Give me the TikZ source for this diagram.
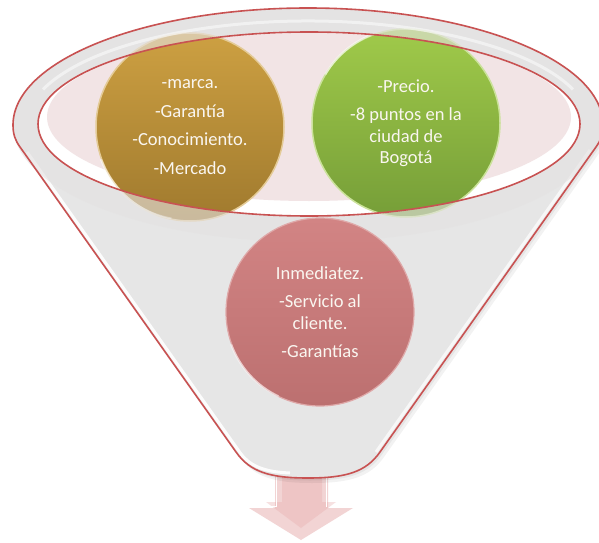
\documentclass[tikz,border=0pt]{standalone}
\usepackage{fontspec}
\setmainfont{Carlito}
\begin{document}
\begin{tikzpicture}[x=1pt,y=1pt]
\definecolor{redline}{RGB}{200,82,82}
\definecolor{bodygray}{RGB}{230,230,230}
\definecolor{rimgray}{RGB}{228,226,226}
\definecolor{innerpink}{RGB}{242,228,229}
\definecolor{goldtop}{RGB}{205,160,66}
\definecolor{goldbot}{RGB}{160,122,46}
\definecolor{greentop}{RGB}{160,202,74}
\definecolor{greenbot}{RGB}{118,158,56}
\definecolor{pinktop}{RGB}{210,132,132}
\definecolor{pinkbot}{RGB}{188,112,112}
\definecolor{arrowpink}{RGB}{242,212,212}
\definecolor{txt}{RGB}{250,246,240}
\tikzset{
  ball/.style={circle, minimum size=188pt, inner sep=0pt, align=center, text=txt,
    font=\fontsize{18.5}{21.5}\selectfont},
  redout/.style={draw=redline, line width=1.6pt},
}
\def\funnel{(13,417) arc[start angle=180,end angle=0,x radius=295,y radius=117]
  .. controls (603,408) and (601,402) .. (596,395) -- (380,90)
  .. controls (366,70) and (346,64) .. (308,64)
  .. controls (270,64) and (250,70) .. (236,90) -- (20,395)
  .. controls (15,402) and (13,408) .. (13,417) -- cycle}
\useasboundingbox (0,0) rectangle (599,542);
\clip (0,0) rectangle (599,542);
\fill[white] (0,0) rectangle (599,542);
% arrow
\fill[arrowpink] (275,72) -- (328,72) -- (328,34) -- (353,34) -- (301,2) -- (249,34) -- (275,34) -- cycle;
\fill[arrowpink!85!red!95!black, opacity=.35] (282,72) -- (322,72) -- (322,40) -- (336,40) -- (301,14) -- (266,40) -- (282,40) -- cycle;
\draw[white, line width=1.5pt] (276.5,72) -- (276.5,35.5) -- (252,35.5);
\draw[white, line width=1.5pt] (326.5,72) -- (326.5,35.5);
% shadow
\fill[black, opacity=.05] [shift={(4,-5)}] \funnel;
\fill[black, opacity=.05] [shift={(2,-2.5)}] \funnel;
% body
\fill[bodygray] \funnel;
\draw[white, line width=3pt, opacity=.9] (27,390) -- (241,88) .. controls (252,74) and (268,70) .. (290,69);
\draw[white, line width=3pt, opacity=.7] (590,392) -- (376,90);
% inner ellipse
\fill[white] (309,418) ellipse [x radius=271, y radius=92];
\fill[innerpink] (309,425) ellipse [x radius=262, y radius=84];
% circles
\node[ball, top color=goldtop, bottom color=goldbot, draw=goldtop!55!white, line width=1.5pt] (gold) at (190,415)
  {-marca.\\[7pt] -Garantía\\[7pt] -Conocimiento.\\[7pt] -Mercado};
\node[ball, top color=greentop, bottom color=greenbot, draw=greentop!55!white, line width=1.5pt] (green) at (406,419)
  {-Precio.\\[7pt] -8 puntos en la\\ ciudad de\\ Bogotá};
\draw[white, opacity=.5, line width=2pt] (gold.200) arc[start angle=200, end angle=260, radius=92];
\draw[white, opacity=.5, line width=2pt] (green.110) arc[start angle=110, end angle=150, radius=92];
% rim band
\fill[rimgray, opacity=.62, even odd rule] (308,417) ellipse [x radius=295, y radius=117]
  (309,418) ellipse [x radius=271, y radius=92];
\draw[white, opacity=.5, line width=3pt] (308,417) ++(160:282 and 104) arc[start angle=160, end angle=20, x radius=282, y radius=104];
% outlines
\draw[redout] \funnel;
\draw[redout] (309,418) ellipse [x radius=271, y radius=92];
% bottom circle
\node[ball, top color=pinktop, bottom color=pinkbot, draw=pinktop!70!white, line width=1.2pt] (pink) at (320,230)
  {Inmediatez.\\[7pt] -Servicio al\\ cliente.\\[7pt] -Garantías};
\draw[white, opacity=.45, line width=2pt] (pink.200) arc[start angle=200, end angle=245, radius=92];
\end{tikzpicture}
\end{document}
